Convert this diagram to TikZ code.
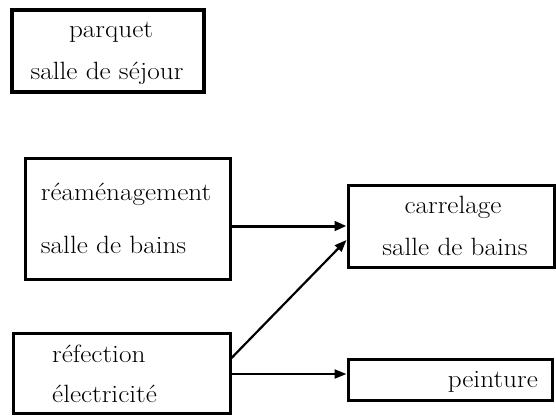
\documentclass[tikz,border=0pt]{standalone}
\usetikzlibrary{arrows.meta,calc}
% labels are set slightly widened
\newcommand{\widetext}[1]{\scalebox{1.09}[1]{#1}}
\begin{document}
\begin{tikzpicture}[x=1pt,y=-1pt,
  box/.style={draw,line width=3pt,rectangle,inner sep=0pt},
  lbl/.style={inner sep=0pt,font=\fontsize{25}{30}\selectfont},
  link/.style={line width=2.2pt,-{Triangle[length=12pt,width=9pt]}},
  thicklink/.style={line width=3pt,-{Triangle[length=12pt,width=9.5pt]}}]
\useasboundingbox (0,0) rectangle (556,415);
% boxes
\node[box,line width=3.5pt,minimum width=192pt,minimum height=82pt] (parq) at (108,51) {};
\node[box,minimum width=205pt,minimum height=121pt] (rea) at (127.5,218.5) {};
\node[box,minimum width=206pt,minimum height=82pt] (carr) at (451,226) {};
\node[box,minimum width=217pt,minimum height=80pt] (refe) at (121.5,373) {};
\node[box,minimum width=204pt,minimum height=41pt] (pein) at (450,379.5) {};
% labels
\node[lbl,anchor=base] (t1) at (111,37) {\widetext{parquet}};
\node[lbl,anchor=base] (t2) at (107,79) {\widetext{salle de séjour}};
\node[lbl,anchor=base west] (t3) at (40.7,200) {\widetext{réaménagement}};
\node[lbl,anchor=base west] (t4) at (40.7,253) {\widetext{salle de bains}};
\node[lbl,anchor=base] (t5) at (453,213) {\widetext{carrelage}};
\node[lbl,anchor=base] (t6) at (455,255) {\widetext{salle de bains}};
\node[lbl,anchor=base west] (t7) at (52,362) {\widetext{réfection}};
\node[lbl,anchor=base west] (t8) at (52,402) {\widetext{électricité}};
\node[lbl,anchor=base east] (t9) at (538,387) {\widetext{peinture}};
% connector levels
\coordinate (h1) at (0,226);
\coordinate (d0) at (0,358);
\coordinate (d1) at (0,240);
\coordinate (h3) at (0,374);
% connectors
\draw[thicklink] (rea.east |- h1) -- (carr.west |- h1);
\draw[link] (refe.east |- d0) -- (carr.west |- d1);
\draw[link] (refe.east |- h3) -- (pein.west |- h3);
\end{tikzpicture}
\end{document}
